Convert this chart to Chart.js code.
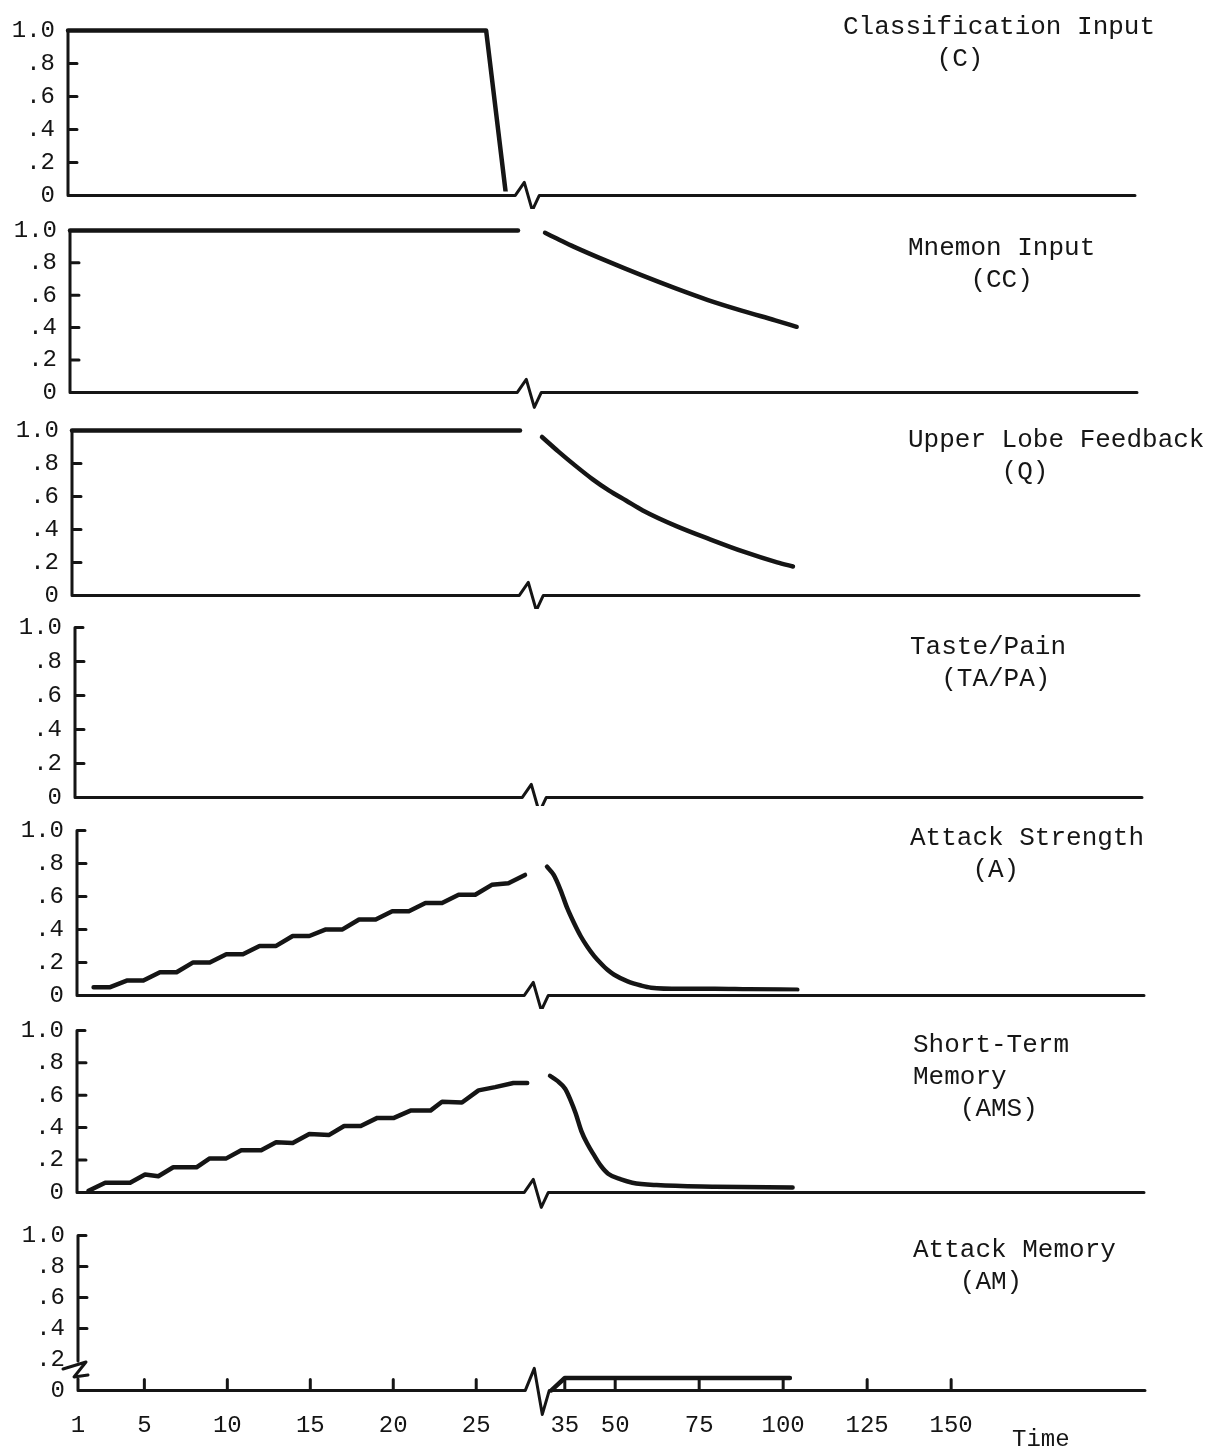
<!DOCTYPE html>
<html>
<head>
<meta charset="utf-8">
<title>Attack sequence traces</title>
<script src="https://cdn.jsdelivr.net/npm/chart.js@4.4.1/dist/chart.umd.min.js"></script>
<style>
  html, body { margin: 0; padding: 0; background: #fff; }
  body { position: relative; width: 1229px; height: 1455px; overflow: hidden; }
  canvas { position: absolute; left: 0; }
  .trace-title { position: absolute; font: 26px/32px "Liberation Mono", monospace; color: #161616; white-space: pre; }
  .time-label { position: absolute; font: 24px/28px "Liberation Mono", monospace; color: #161616; }
</style>
</head>
<body>
<script>
const INK = '#151515';

// time steps on the bottom axis (1..25 full scale, 35..150 squeezed after the break)
const timeTicks = [1, 5, 10, 15, 20, 25, 35, 50, 75, 100, 125, 150];
const levelTicks = [0, 0.2, 0.4, 0.6, 0.8, 1.0];
const levelLabels = ['0', '.2', '.4', '.6', '.8', '1.0'];

// Classification input (C)
const cTime = [1, 26.2, 27.4];
const cLevel = [1.0, 1.0, 0];

// Mnemon input (CC)
const ccTimeBefore = [1, 28];
const ccLevelBefore = [1.0, 1.0];
const ccTimeAfter = [31.5, 35, 40, 50, 60, 70, 80, 90, 100, 106.4];
const ccLevelAfter = [0.985, 0.95, 0.90, 0.81, 0.725, 0.645, 0.57, 0.505, 0.445, 0.405];

// Upper lobe feedback (Q)
const qTimeBefore = [1, 28];
const qLevelBefore = [1.0, 1.0];
const qTimeAfter = [30, 35, 40, 45, 50, 55, 60, 70, 80, 90, 100, 104.7];
const qLevelAfter = [0.96, 0.87, 0.785, 0.705, 0.635, 0.575, 0.515, 0.42, 0.34, 0.265, 0.20, 0.175];

// Attack strength (A)
const aTimeBefore = [2, 3, 4, 5, 6, 7, 8, 9, 10, 11, 12, 13, 14, 15, 16, 17, 18, 19, 20, 21, 22, 23, 24, 25, 26, 27, 28];
const aLevelBefore = [0.05, 0.05, 0.09, 0.09, 0.14, 0.14, 0.20, 0.20, 0.25, 0.25, 0.30, 0.30, 0.36, 0.36,
                      0.40, 0.40, 0.46, 0.46, 0.51, 0.51, 0.56, 0.56, 0.61, 0.61, 0.67, 0.68, 0.73];
const aTimeAfter = [30, 32, 34, 36, 38, 40, 42, 44, 46, 48, 50, 54, 58, 61, 70, 80, 90, 104.5];
const aLevelAfter = [0.78, 0.73, 0.64, 0.53, 0.44, 0.36, 0.295, 0.24, 0.195, 0.155, 0.125, 0.085, 0.06, 0.047, 0.04, 0.04, 0.037, 0.035];

// Short-term memory (AMS)
const amsTimeBefore = [1.7, 2.7, 4.2, 5.1, 5.9, 6.8, 8.2, 9, 10, 10.9, 12.1, 13, 14, 15, 16.2, 17.1, 18.1,
                       19.1, 20.1, 21.1, 22.3, 23, 24.2, 25.2, 26.2, 27.3, 28.2];
const amsLevelBefore = [0.01, 0.06, 0.06, 0.11, 0.10, 0.155, 0.155, 0.21, 0.21, 0.26, 0.26, 0.31, 0.305, 0.36,
                        0.355, 0.41, 0.41, 0.46, 0.46, 0.505, 0.505, 0.56, 0.555, 0.63, 0.65, 0.675, 0.675];
const amsTimeAfter = [30.9, 33, 35.4, 37, 38.5, 40.2, 42, 44, 46, 48.2, 52, 55.4, 62.6, 80, 103.1];
const amsLevelAfter = [0.72, 0.69, 0.64, 0.57, 0.49, 0.38, 0.30, 0.23, 0.165, 0.115, 0.08, 0.06, 0.045, 0.035, 0.03];

// Attack memory (AM)
const amTime = [31, 35, 102];
const amLevel = [0, 0.08, 0.08];

const panelTitles = [
  'Classification Input\n      (C)',
  'Mnemon Input\n    (CC)',
  'Upper Lobe Feedback\n      (Q)',
  'Taste/Pain\n  (TA/PA)',
  'Attack Strength\n    (A)',
  'Short-Term\nMemory\n   (AMS)',
  'Attack Memory\n   (AM)'
];

// page layout of the seven strips
const panelAxisX = [68, 70, 72, 75, 77, 77, 78];
const panelTop = [30, 230, 430, 627, 830, 1030, 1235];    // where 1.0 sits
const panelZero = [195, 392, 595, 797, 995, 1192, 1390];  // where 0 sits
const titleLeft = [843, 908, 908, 910, 910, 913, 913];
const titleTop = [11, 232, 424, 631, 822, 1029, 1234];

// broken time axis: 1..28 wide, a short gap for the break mark, then 30..TIME_MAX compressed
const AXIS_LEN = 1067;
const TIME_MAX = 207.7;
const F_BEFORE = 448 / AXIS_LEN;
const F_AFTER = 470 / AXIS_LEN;

function timeToFraction(t) {
  if (t <= 28) return (t - 1) / 27 * F_BEFORE;
  if (t <= 30) return F_BEFORE + (t - 28) / 2 * (F_AFTER - F_BEFORE);
  return F_AFTER + (t - 30) / (TIME_MAX - 30) * (1 - F_AFTER);
}

function fractionToTime(f) {
  if (f <= F_BEFORE) return 1 + f / F_BEFORE * 27;
  if (f <= F_AFTER) return 28 + (f - F_BEFORE) / (F_AFTER - F_BEFORE) * 2;
  return 30 + (f - F_AFTER) / (1 - F_AFTER) * (TIME_MAX - 30);
}

class BrokenTimeScale extends Chart.LinearScale {
  getPixelForValue(value) {
    if (value === null || value === undefined) return NaN;
    return this.getPixelForDecimal(timeToFraction(value));
  }
  getValueForPixel(pixel) {
    return fractionToTime(this.getDecimalForPixel(pixel));
  }
}
BrokenTimeScale.id = 'brokenTime';
Chart.register(BrokenTimeScale);

// typewriter style axes: hooked level axis with inward ticks, baseline with a break mark
const paperAxes = {
  id: 'paperAxes',
  afterDatasetsDraw(chart, args, opts) {
    const {ctx, chartArea} = chart;
    const x = chart.scales.x, y = chart.scales.y;
    const ax = chartArea.left;
    const top = y.getPixelForValue(1);
    const zero = y.getPixelForValue(0);
    const gap = x.getPixelForValue(29.3);
    const depth = opts.breakDepth || 15;

    ctx.save();
    ctx.strokeStyle = INK;
    ctx.lineWidth = 3;
    ctx.lineCap = 'round';
    ctx.lineJoin = 'round';
    ctx.beginPath();
    ctx.moveTo(ax + 8, top);
    ctx.lineTo(ax, top);
    if (opts.brokenLevel) {
      const yb = y.getPixelForValue(0.19);
      ctx.lineTo(ax, yb);
      ctx.moveTo(ax - 15, yb + 8);
      ctx.lineTo(ax + 8, yb + 1);
      ctx.lineTo(ax - 4, yb + 16);
      ctx.lineTo(ax + 10, yb + 14);
      ctx.moveTo(ax, yb + 18);
    }
    ctx.lineTo(ax, zero);
    ctx.lineTo(gap - 15, zero);
    ctx.lineTo(gap - 6, zero - depth + 2);
    ctx.lineTo(gap + 2, zero + depth);
    ctx.lineTo(gap + 9, zero);
    ctx.lineTo(chartArea.right, zero);

    levelTicks.forEach(v => {
      if (v === 0 || v === 1) return;
      if (opts.brokenLevel && v < 0.3) return;
      const py = y.getPixelForValue(v);
      ctx.moveTo(ax, py);
      ctx.lineTo(ax + 9, py);
    });
    if (opts.timeTicks) {
      timeTicks.forEach(t => {
        if (t === 1) return;
        const px = x.getPixelForValue(t);
        ctx.moveTo(px, zero);
        ctx.lineTo(px, zero - 11);
      });
    }
    ctx.stroke();
    ctx.restore();
  }
};

function trace(times, levels, curved) {
  return {
    data: times.map((t, i) => ({x: t, y: levels[i]})),
    borderColor: INK,
    borderWidth: 4.5,
    pointRadius: 0,
    tension: curved ? 0.4 : 0,
    cubicInterpolationMode: curved ? 'monotone' : 'default',
    borderCapStyle: 'round',
    borderJoinStyle: 'round',
    clip: 10
  };
}

const panelTraces = [
  [trace(cTime, cLevel)],
  [trace(ccTimeBefore, ccLevelBefore), trace(ccTimeAfter, ccLevelAfter, true)],
  [trace(qTimeBefore, qLevelBefore), trace(qTimeAfter, qLevelAfter, true)],
  [],
  [trace(aTimeBefore, aLevelBefore), trace(aTimeAfter, aLevelAfter, true)],
  [trace(amsTimeBefore, amsLevelBefore), trace(amsTimeAfter, amsLevelAfter, true)],
  [trace(amTime, amLevel)]
];

const tickFont = {family: 'Liberation Mono', size: 24};

function drawPanel(i) {
  const last = i === panelTitles.length - 1;
  const h = last ? 240 : 206;
  const canvas = document.createElement('canvas');
  canvas.style.width = '1229px';
  canvas.style.height = h + 'px';
  canvas.width = 1229;
  canvas.height = h;
  document.body.appendChild(canvas);

  const chart = new Chart(canvas, {
    type: 'line',
    data: {datasets: panelTraces[i]},
    options: {
      responsive: false,
      animation: false,
      events: [],
      layout: {padding: {top: 16, left: 0, bottom: 0, right: 1229 - panelAxisX[i] - AXIS_LEN}},
      plugins: {
        legend: {display: false},
        tooltip: {enabled: false},
        paperAxes: {timeTicks: last, brokenLevel: last, breakDepth: last ? 24 : 15}
      },
      scales: {
        x: {
          type: 'brokenTime',
          min: 1,
          max: TIME_MAX,
          display: last,
          grid: {display: false, drawTicks: false},
          border: {display: false},
          afterBuildTicks: s => { s.ticks = timeTicks.map(v => ({value: v})); },
          ticks: {autoSkip: false, maxRotation: 0, padding: 8, color: INK, font: tickFont,
                  callback: v => String(v)}
        },
        y: {
          min: -0.2,
          max: 1,
          grid: {display: false, drawTicks: false},
          border: {display: false},
          afterFit: s => { s.width = panelAxisX[i]; },
          afterBuildTicks: s => { s.ticks = levelTicks.map(v => ({value: v})); },
          ticks: {autoSkip: false, padding: 13, color: INK, font: tickFont,
                  callback: (v, idx) => levelLabels[idx]}
        }
      }
    },
    plugins: [paperAxes]
  });

  // stretch the level scale so 0..1 spans the strip height, then slide the canvas into place
  const area = chart.chartArea;
  const unit = panelZero[i] - panelTop[i];
  chart.options.scales.y.min = 1 - (area.bottom - area.top) / unit;
  chart.update();
  canvas.style.top = Math.round(panelTop[i] - chart.scales.y.getPixelForValue(1)) + 'px';

  const title = document.createElement('div');
  title.className = 'trace-title';
  title.style.left = titleLeft[i] + 'px';
  title.style.top = titleTop[i] + 'px';
  title.textContent = panelTitles[i];
  document.body.appendChild(title);
}

panelTitles.forEach((t, i) => drawPanel(i));

const timeLabel = document.createElement('div');
timeLabel.className = 'time-label';
timeLabel.style.left = '1012px';
timeLabel.style.top = '1426px';
timeLabel.textContent = 'Time';
document.body.appendChild(timeLabel);
</script>
</body>
</html>
